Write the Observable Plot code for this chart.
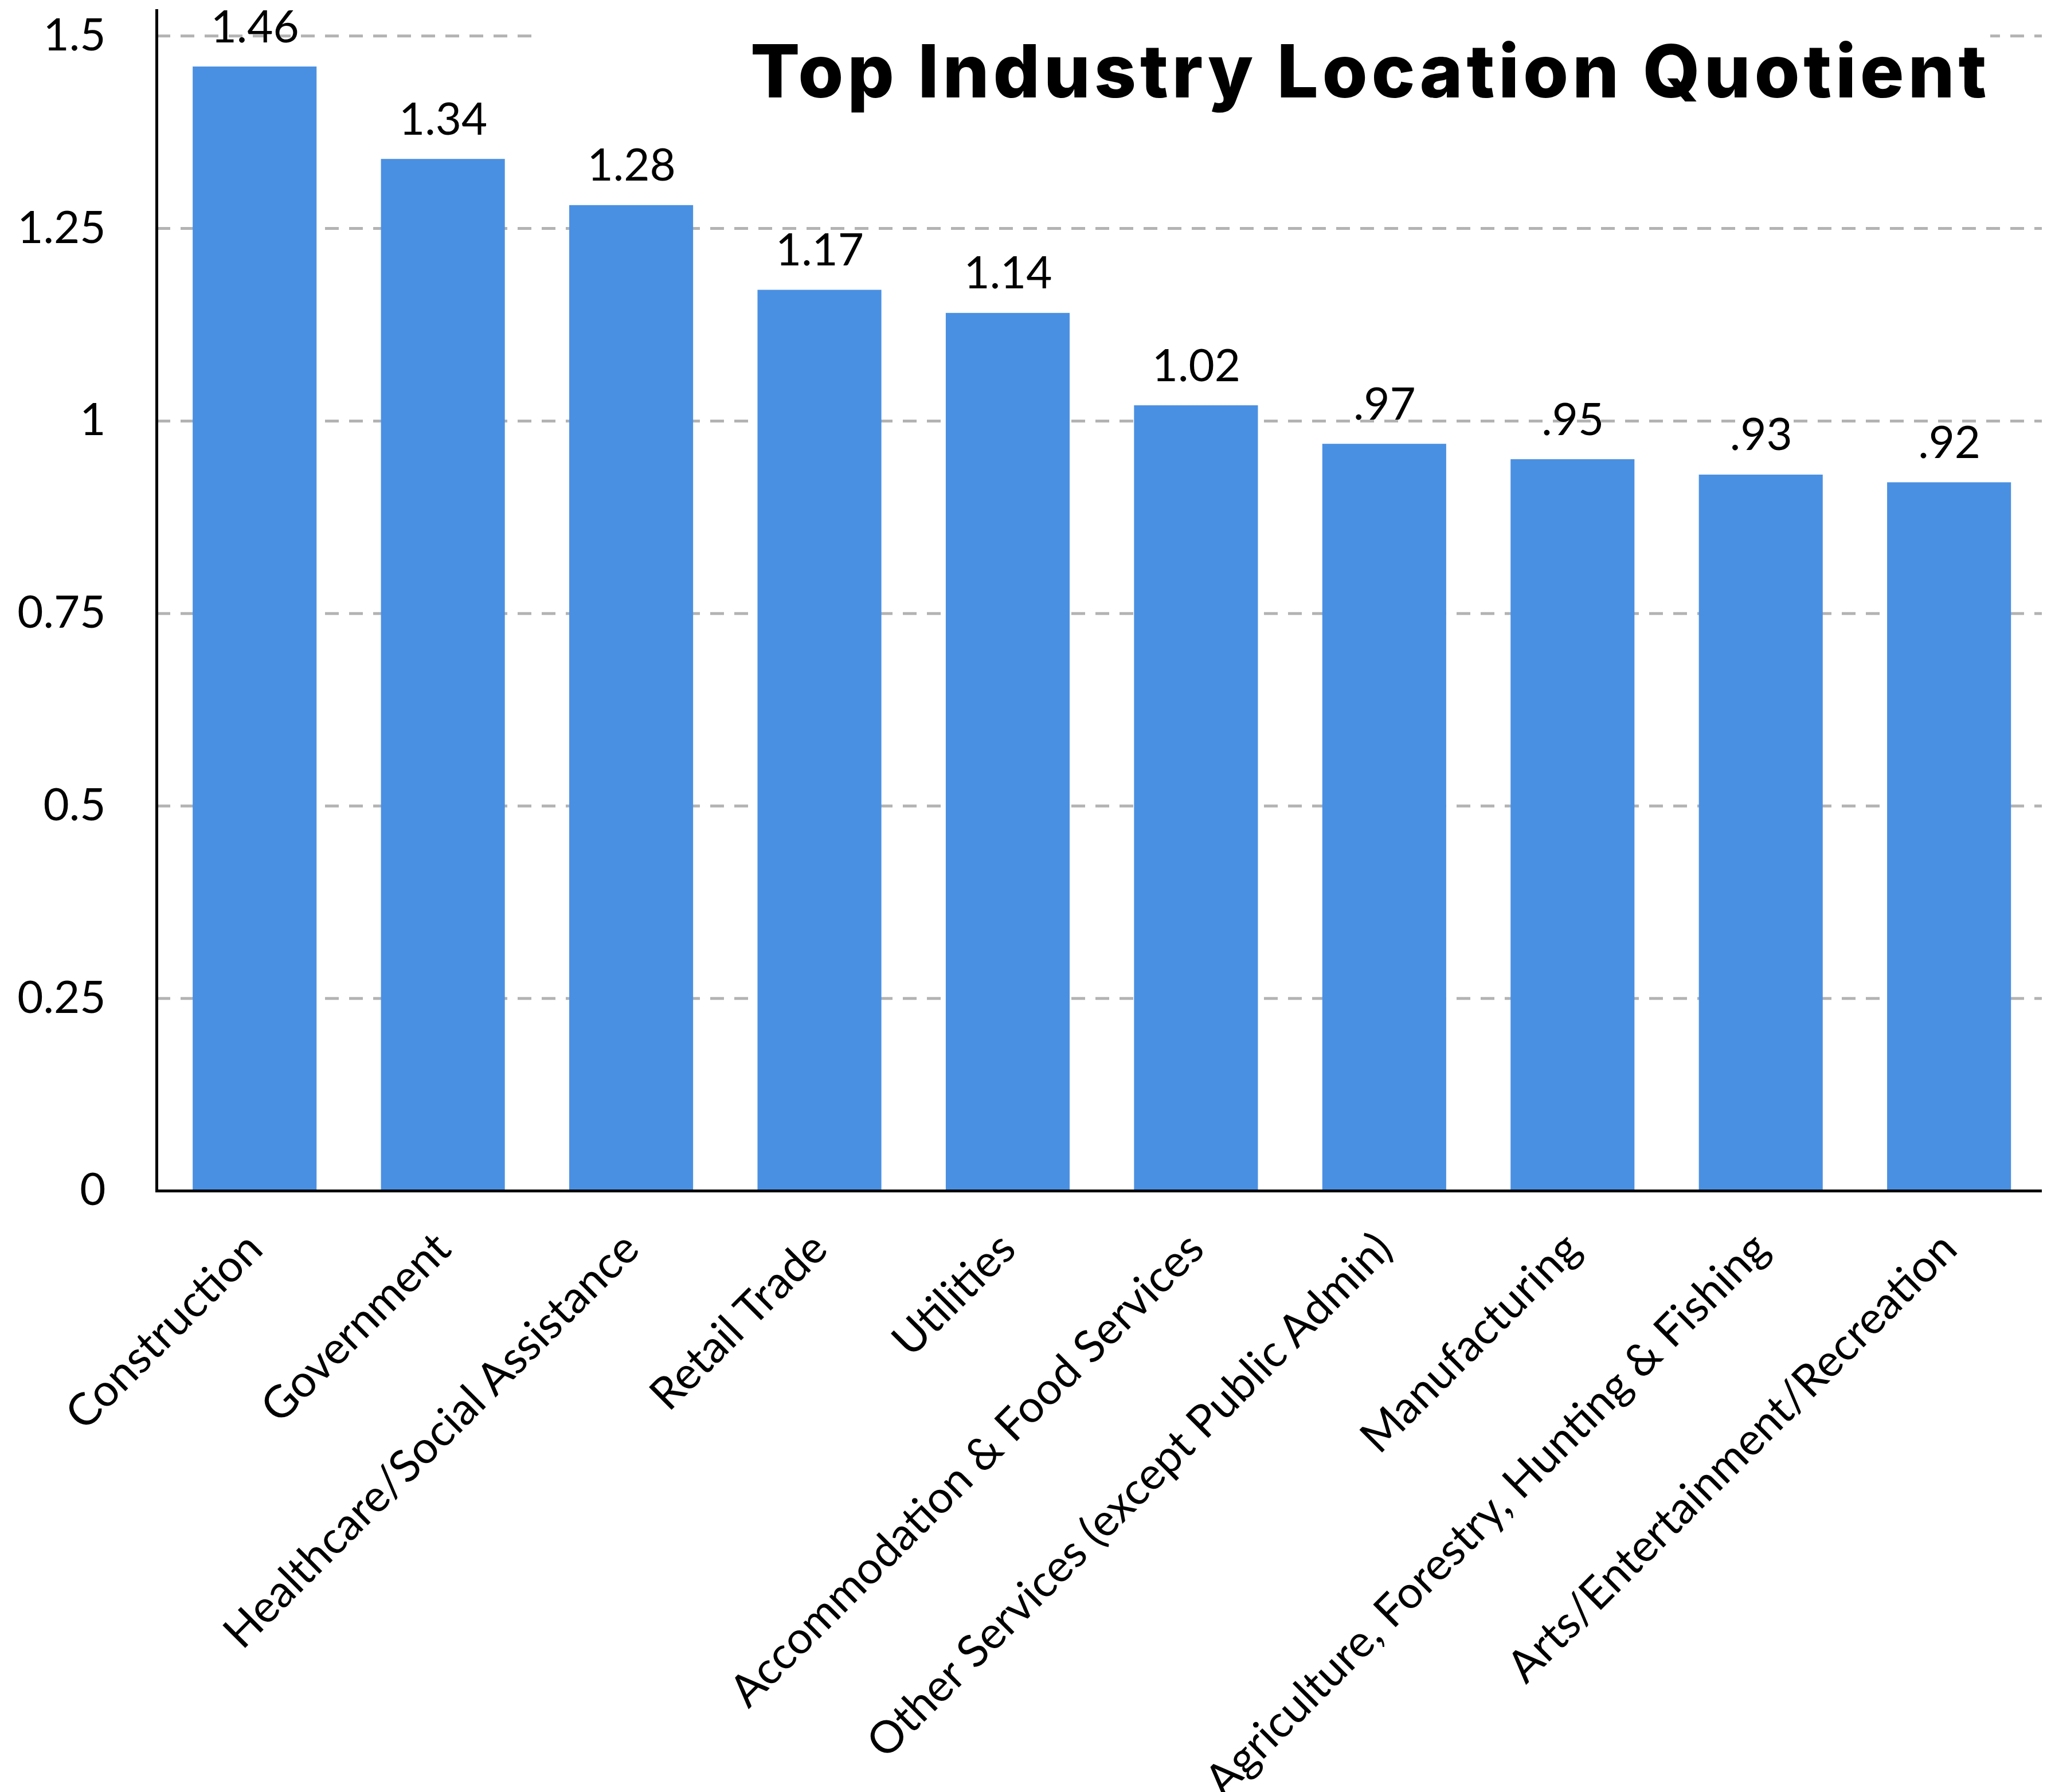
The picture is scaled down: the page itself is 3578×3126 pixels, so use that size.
<!DOCTYPE html>
<html><head><meta charset="utf-8">
<script src="https://cdn.jsdelivr.net/npm/d3@7"></script>
<script src="https://cdn.jsdelivr.net/npm/@observablehq/plot@0.6"></script>
<style>
body{margin:0;background:#fff;}
#wrap{position:relative;width:3578px;height:3126px;}
#title{position:absolute;left:931px;top:40px;width:2541px;padding-top:20px;text-align:right;font-family:Inter;font-weight:800;font-size:128px;line-height:1;background:#fff;color:#000;white-space:nowrap;}
</style></head><body>
<div id="wrap"><div id="chart"></div><div id="title">Top Industry Location Quotient</div></div>
<script>
const categories = ["Construction","Government","Healthcare/Social Assistance","Retail Trade","Utilities","Accommodation & Food Services","Other Services (except Public Admin)","Manufacturing","Agriculture, Forestry, Hunting & Fishing","Arts/Entertainment/Recreation"];
const values = [1.46,1.34,1.28,1.17,1.14,1.02,0.97,0.95,0.93,0.92];
const yTicks = [0,0.25,0.5,0.75,1,1.25,1.5];
const data = categories.map((c,i)=>({category:c, value:values[i]}));
const fmt = v => d3.format(".2f")(v).replace(/^0\./, ".");
const chart = Plot.plot({
  width:3578, height:3126, marginLeft:273, marginRight:16, marginTop:18, marginBottom:1049,
  style:{fontFamily:"Lato", fontSize:"78px", color:"#000", background:"#fff"},
  x:{domain:categories, paddingInner:0.342, paddingOuter:0.178, align:0.54, round:false, label:null},
  y:{domain:[0,1.533], label:null},
  marks:[
    Plot.gridY(yTicks.slice(1), {stroke:"#b3b3b3", strokeOpacity:1, strokeWidth:5, strokeDasharray:"24,18"}),
    Plot.barY(data, {x:"category", y:"value", fill:"#4a90e2"}),
    Plot.text(data, {x:"category", y:"value", text:d=>fmt(d.value), dy:-43, lineAnchor:"bottom", fontSize:78, fill:"#000"}),
    Plot.axisY(yTicks, {tickSize:0, tickPadding:89, fontSize:78, tickFormat:d3.format("")}),
    Plot.axisX({tickSize:0, tickRotate:-45, tickPadding:88, fontSize:78}),
    Plot.ruleY([0], {stroke:"#000", strokeWidth:5}),
    Plot.frame({anchor:"left", stroke:"#000", strokeWidth:5})
  ]
});
document.getElementById("chart").appendChild(chart);
// fit title width to reference
const t = document.getElementById("title");
const ctx = document.createElement("canvas").getContext("2d");
ctx.font = "800 128px Inter";
const w = ctx.measureText(t.textContent).width;
t.style.letterSpacing = ((2163 - w) / t.textContent.length) + "px";
</script>
</body></html>
